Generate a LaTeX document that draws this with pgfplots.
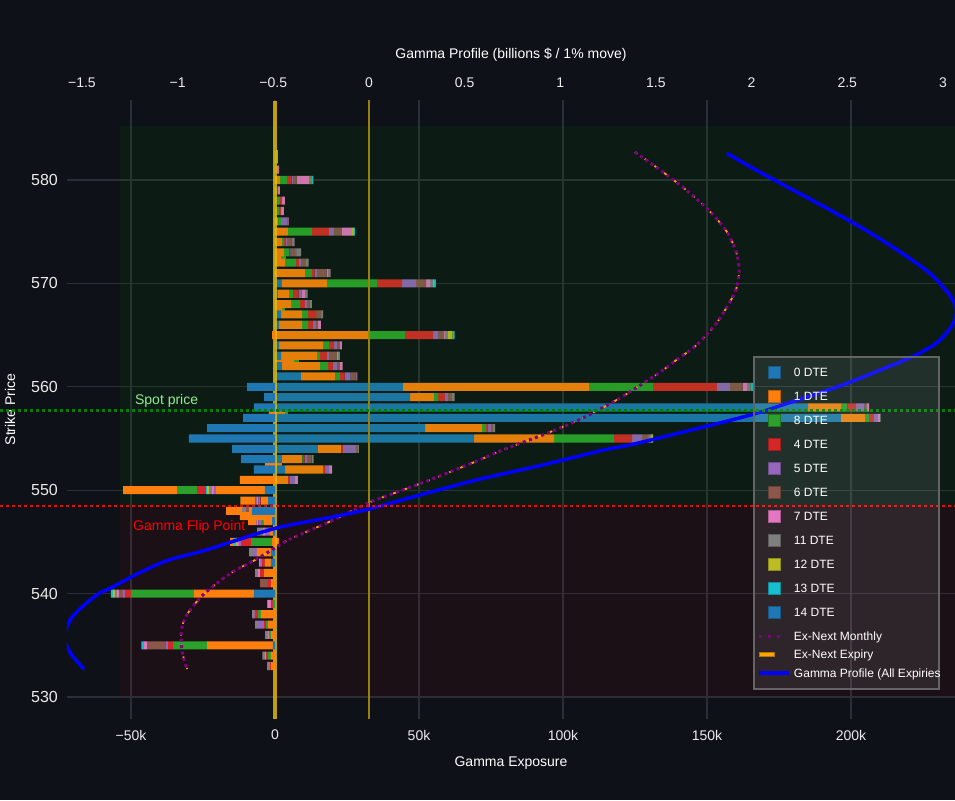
\documentclass[border=0pt]{standalone}
\usepackage{pgfplots}
\pgfplotsset{compat=1.18}
\usepackage{pgfplotstable}
\usepackage{fontspec}
\setmainfont{Liberation Sans}

\definecolor{bgc}{RGB}{14,17,24}
\definecolor{gridc}{RGB}{42,46,54}
\definecolor{tickc}{RGB}{235,235,235}
\definecolor{cA}{RGB}{31,119,180}
\definecolor{cB}{RGB}{255,127,14}
\definecolor{cC}{RGB}{44,160,44}
\definecolor{cD}{RGB}{214,39,40}
\definecolor{cE}{RGB}{148,103,189}
\definecolor{cF}{RGB}{140,86,75}
\definecolor{cG}{RGB}{227,119,194}
\definecolor{cH}{RGB}{127,127,127}
\definecolor{cI}{RGB}{188,189,34}
\definecolor{cJ}{RGB}{23,190,207}
\definecolor{gprof}{RGB}{0,0,255}
\definecolor{exmon}{RGB}{128,0,128}
\definecolor{exexp}{RGB}{255,165,0}
\definecolor{goldA}{RGB}{230,190,10}
\definecolor{goldB}{RGB}{150,128,15}
\definecolor{spotg}{RGB}{0,128,0}
\definecolor{legc}{RGB}{100,100,100}
\definecolor{ltgreen}{RGB}{144,238,144}

\pgfplotstableread{
y b o g r p br pk gy ol cy nb no ng nr np nbr npk ngy nol ncy nrr ngg noo
582.5 0 0 0.7 0 0 0 0 0 0.3 0 0 0 0 0 0 0 0 0 0 0 0 0 0
582 0 0 0.7 0 0 0 0 0 0.3 0 0 0 0 0 0 0 0 0 0 0 0 0 0
581 0 0 0 0 0 0.7 0.7 0 0 0 0 0 0 0 0 0 0 0 0 0 0 0 0
580 0 1.7 2.4 1.7 0.7 1.0 4.5 0.3 0.3 0.7 0 0 0 0 0 0 0 0 0 0 0 0 0
579 0 0 0.7 0.3 0 0 0.7 0 0 0 0 0 0 0 0 0 0 0 0 0 0 0 0
578 0 0 1.7 0.7 0 0 1.0 0 0 0 0 0 0 0 0 0 0 0 0 0 0 0 0
577 0 0 1.4 0.7 0 0 1.0 0 0 0 0 0 0 0 0 0 0 0 0 0 0 0 0
576 0 1.0 1.0 0 2.4 0 0.3 0 0 0 0 0 0 0 0 0 0 0 0 0 0 0 0
575 0 4.5 8.3 5.9 1.7 2.8 3.5 0 0.7 0.3 0 0 0 0 0 0 0 0 0 0 0 0 0
574 0 2.4 0.7 0.7 0.3 1.7 0.3 0.7 0 0 0 0 0 0 0 0 0 0 0 0 0 0 0
573 0 3.1 1.7 0.3 0.3 1.7 0.3 1.7 0 0 0 0 0 0 0 0 0 0 0 0 0 0 0
572.5 0 2.1 1.7 0 0 0 0 0 0 0 0 0 0 0 0 0 0 0 0 0 0 0 0
572 0 3.5 3.8 1.0 0.7 1.7 0 1.0 0 0 0 0 0 0 0 0 0 0 0 0 0 0 0
571 0 10.4 2.4 1.0 1.0 3.1 0.7 0.7 0 0 0 0 0 0 0 0 0 0 0 0 0 0 0
570 2.4 15.6 17.4 8.7 4.9 3.5 1.4 1.0 0.3 0.7 0 0 0 0 0 0 0 0 0 0 0 0 0
569 1.0 3.8 1.7 1.7 1.0 0 1.4 0.7 0 0 0 0 0 0 0 0 0 0 0 0 0 0 0
568 0 5.6 3.1 1.7 0.7 1.0 0 0.7 0 0 0 0 0 0 0 0 0 0 0 0 0 0 0
567.5 0 2.4 1.0 0 0 0 0 0 0 0 0 0 0 0 0 0 0 0 0 0 0 0 0
567 2.1 7.3 2.1 2.8 0 1.7 0 0.7 0 0 0 0 0 0 0 0 0 0 0 0 0 0 0
566 1.4 8.0 2.1 1.7 1.0 0.7 1.0 0 0 0 0 0 0 0 0 0 0 0 0 0 0 0 0
565 0 33.0 12.2 9.7 1.7 2.1 0.3 1.0 1.7 0.7 0 -1.0 0 0 0 0 0 0 0 0 0 0 0
564 1.4 15.3 2.1 1.7 1.0 1.0 0.7 0 0 0 0 0 0 0 0 0 0 0 0 0 0 0 0
563 2.1 12.5 1.0 2.4 0.7 2.8 0.3 0.7 0 0 0 0 0 0 0 0 0 0 0 0 0 0 0
562.5 0 6.6 1.7 0 0 0 0 0 0 0 0 0 0 0 0 0 0 0 0 0 0 0 0
562 2.4 13.2 2.8 1.7 1.4 1.0 1.0 0 0 0 0 0 0 0 0 0 0 0 0 0 0 0 0
561 9.0 11.8 1.7 1.7 2.1 1.7 0.3 0.3 0 0 0 0 0 0 0 0 0 0 0 0 0 0 0
560 44.4 64.6 22.2 22.2 4.5 4.5 1.7 1.0 0 1.4 -9.7 0 0 0 0 0 0 0 0 0 0 0 0
559 46.9 8.3 1.4 2.4 1.0 1.4 0 1.0 0 0 -3.8 0 0 0 0 0 0 0 0 0 0 0 0
558 185.1 11.5 2.1 3.1 2.8 1.0 0.7 0 0 0 -7.3 0 0 0 0 0 0 0 0 0 0 0 0
557.5 0 3.5 1.0 0 0 0 0 0 0 0 0 -2.1 0 0 0 0 0 0 0 0 0 0 0
557 196.5 8.3 1.7 1.4 1.4 0 0.7 0.3 0 0 -11.1 0 0 0 0 0 0 0 0 0 0 0 0
556 52.1 19.8 1.4 0.7 1.0 0.7 0 0.7 0 0 -23.6 0 0 0 0 0 0 0 0 0 0 0 0
555 69.1 27.8 20.8 6.3 3.5 2.1 0.3 0.7 0.7 0 -29.9 0 0 0 0 0 0 0 0 0 0 0 0
554 14.9 8.0 0 0.7 4.5 0.7 0 0.3 0 0 -14.9 0 0 0 0 0 0 0 0 0 0 0 0
553 2.4 6.9 0.3 0.7 1.0 1.4 0 0.7 0 0 -11.8 0 0 0 0 0 0 0 0 0 0 0 0
552.5 0 2.4 0 0 0 0 0 0 0 0 0 -3.5 0 0 0 0 0 0 0 0 0 0 0
552 3.5 13.2 0 0.7 1.4 0 1.0 0 0 0 -7.3 0 0 0 0 0 0 0 0 0 0 0 0
551 0 4.5 0 0.7 1.7 0 1.0 0 0 0 0 -12.2 0 0 0 0 0 0 0 0 0 0 0
550 0 0 0 0 0 0 0 0 0 0 -3.5 -17.0 0 0 -0.7 0 -0.7 -1.0 -0.7 -0.3 -3.1 -6.9 -18.8
549 0 0 0 0 0 0 0 0 0 0 -2.4 -2.4 0 -0.3 -0.7 0 -0.7 -0.3 0 0 0 0 -5.2
548 0 0 0 0 0 0 0 0 0 0 -8.0 -1.0 0 0 0 -1.0 0 -1.4 0 0 0 0 -5.6
547.5 0 0 0 0 0 0 0 0 0 0 0 -12.2 0 0 0 0 0 0 0 0 0 0 0
547 0 0 0 0 0 0 0 0 0 0 -1.0 -2.8 -1.0 0 -1.0 0 -0.7 0 0 0 0 0 -2.8
546 0 0 0 0 0 0 0 0 0 0 -0.7 -1.0 0 0 -1.7 0 -0.7 -2.1 0 0 0 0 0
545 0 1.4 0 0 0 0 0 0 0 0 0 -1.0 -7.3 -3.5 -0.7 0 -0.7 0 -0.3 -0.7 0 0 -1.4
544 0 0 0 0 0 0 0 0 0 0 -1.4 -4.9 0 0 -1.0 0 0 -1.7 0 0 0 0 0
543 0 0 0 0 0 0 0 0 0 0 -1.4 -2.1 0 -1.0 -0.7 0 -0.3 0 0 0 0 0 0
542 0 0 0 0 0 0 0 0 0 0 0 -3.8 0 -1.4 0 0 -0.7 -1.0 0 0 0 0 0
541 0 0 0 0 0 0 0 0 0 0 0 -1.4 0 -1.0 0 -2.8 0 0 0 0 0 0 0
540 0 0 0 0 0 0 0 0 0 0 -7.3 -20.8 -21.9 -2.1 -0.7 -1.4 -0.7 -0.7 -0.7 -0.7 0 0 0
539 0 0 0 0 0 0 0 0 0 0 0 0 -0.7 -0.7 0 0 -1.0 -0.3 0 0 0 0 0
538 0 0 0 0 0 0 0 0 0 0 0 -4.9 -1.0 -1.0 0 0 -0.3 -0.7 0 0 0 0 0
537 0 0 0 0 0 0 0 0 0 0 0 -2.4 -0.7 -0.7 -2.4 0 0 -0.7 0 0 0 0 0
536 0 0 0 0 0 0 0 0 0 0 0 -1.4 -0.7 0 0 0 -0.3 -1.0 0 0 0 0 0
535 0 0 0 0 0 0 0 0 0 0 -0.7 -22.9 -11.8 -1.7 -0.7 -6.6 -1.0 0 -0.3 -0.7 0 0 0
534 0 0 0 0 0 0 0 0 0 0 0 -1.4 -1.0 -0.7 0 0 -0.3 -1.0 0 0 0 0 0
533 0 0 0 0 0 0 0 0 0 0 0 -1.4 0 -0.3 0 0 0 -1.0 0 0 0 0 0
}\bars

\pgfplotsset{
  geom/.style={at={(67pt,81pt)}, anchor=south west, scale only axis,
    width=888pt, height=619pt, ymin=527.872, ymax=587.737},
  sq/.style={legend image code/.code={%
    \path[draw=none,fill=none] (0pt,-12pt) rectangle (40pt,12pt);
    \filldraw[fill opacity=1, draw opacity=1, fill=#1, draw=#1!75!black, line width=0.6pt] (14pt,-6pt) rectangle (26pt,6pt);}},
}

\begin{document}
\begin{tikzpicture}[font=\fontsize{14}{17}\selectfont]
\useasboundingbox (0,0) rectangle (955pt,800pt);
\fill[bgc] (0,0) rectangle (955pt,800pt);
\clip (0,0) rectangle (955pt,800pt);

% ---------- main axis (bottom scale), positive bars
\begin{axis}[geom,
  xmin=-72.22, xmax=236.11,
  axis line style={draw=none}, tick style={draw=none},
  xtick={-50,0,50,100,150,200}, xticklabels={−50k,0,50k,100k,150k,200k},
  ytick={530,540,550,560,570,580}, yticklabels={530,540,550,560,570,580},
  xticklabel style={anchor=center, yshift=-16pt, text=tickc, font=\fontsize{14}{17}\selectfont},
  yticklabel style={anchor=east, inner sep=0pt, xshift=-9pt, text=tickc, font=\fontsize{16}{19}\selectfont},
  xmajorgrids, ymajorgrids, major grid style={gridc, line width=1.2pt},
  xlabel={Gamma Exposure}, ylabel={Strike Price},
  xlabel style={at={(rel axis cs:0.5,-0.0711)}, anchor=center, text=white},
  ylabel style={at={(rel axis cs:-0.0642,0.5)}, anchor=center, text=white},
  xbar stacked, bar width=0.78,
]
\fill[spotg, fill opacity=0.1] (axis cs:-53.8,548.47) rectangle (axis cs:240,585.22);
\fill[red, fill opacity=0.05] (axis cs:-53.8,530.0) rectangle (axis cs:240,548.47);
\addplot[fill=cA, draw=none] table[x=b, y=y]{\bars};
\addplot[fill=cB, draw=none] table[x=o, y=y]{\bars};
\addplot[fill=cC, draw=none] table[x=g, y=y]{\bars};
\addplot[fill=cD, draw=none] table[x=r, y=y]{\bars};
\addplot[fill=cE, draw=none] table[x=p, y=y]{\bars};
\addplot[fill=cF, draw=none] table[x=br, y=y]{\bars};
\addplot[fill=cG, draw=none] table[x=pk, y=y]{\bars};
\addplot[fill=cH, draw=none] table[x=gy, y=y]{\bars};
\addplot[fill=cI, draw=none] table[x=ol, y=y]{\bars};
\addplot[fill=cJ, draw=none] table[x=cy, y=y]{\bars};
\end{axis}

% ---------- negative bars (same scale)
\begin{axis}[geom, xmin=-72.22, xmax=236.11, hide axis,
  xbar stacked, bar width=0.78]
\addplot[fill=cA, draw=none] table[x=nb, y=y]{\bars};
\addplot[fill=cB, draw=none] table[x=no, y=y]{\bars};
\addplot[fill=cC, draw=none] table[x=ng, y=y]{\bars};
\addplot[fill=cD, draw=none] table[x=nr, y=y]{\bars};
\addplot[fill=cE, draw=none] table[x=np, y=y]{\bars};
\addplot[fill=cF, draw=none] table[x=nbr, y=y]{\bars};
\addplot[fill=cG, draw=none] table[x=npk, y=y]{\bars};
\addplot[fill=cH, draw=none] table[x=ngy, y=y]{\bars};
\addplot[fill=cI, draw=none] table[x=nol, y=y]{\bars};
\addplot[fill=cJ, draw=none] table[x=ncy, y=y]{\bars};
\addplot[fill=cD, draw=none] table[x=nrr, y=y]{\bars};
\addplot[fill=cC, draw=none] table[x=ngg, y=y]{\bars};
\addplot[fill=cB, draw=none] table[x=noo, y=y]{\bars};
\draw[goldA, line width=3.5pt, opacity=0.8] (axis cs:0,527.872) -- (axis cs:0,587.6);
\end{axis}

% ---------- top scale: gamma profile curves, lines, legend
\begin{axis}[geom,
  xmin=-1.578, xmax=3.063,
  axis x line*=top, axis y line=none,
  axis line style={draw=none}, tick style={draw=none},
  xtick={-1.5,-1,-0.5,0,0.5,1,1.5,2,2.5,3},
  xticklabels={−1.5,−1,−0.5,0,0.5,1,1.5,2,2.5,3},
  xticklabel style={anchor=center, yshift=17pt, text=tickc, font=\fontsize{14}{17}\selectfont},
  xlabel={Gamma Profile (billions \$ / 1\% move)},
  xlabel style={at={(rel axis cs:0.5,1.0727)}, anchor=center, text=white},
  clip mode=individual,
  legend cell align=left,
  legend style={at={(0.7725,0.5864)}, anchor=north west,
    fill=white, fill opacity=0.09, draw opacity=1, text opacity=1,
    draw=legc, line width=2pt, inner xsep=0pt, inner ysep=3pt,
    row sep=0pt, column sep=0pt,
    font=\fontsize{12}{14}\selectfont, text=white,
    nodes={inner sep=0pt, text height=16.3pt, text depth=7.7pt}},
]
\addlegendimage{sq=cA}
\addlegendentry{0 DTE}
\addlegendimage{sq=cB}
\addlegendentry{1 DTE}
\addlegendimage{sq=cC}
\addlegendentry{8 DTE}
\addlegendimage{sq=cD}
\addlegendentry{4 DTE}
\addlegendimage{sq=cE}
\addlegendentry{5 DTE}
\addlegendimage{sq=cF}
\addlegendentry{6 DTE}
\addlegendimage{sq=cG}
\addlegendentry{7 DTE}
\addlegendimage{sq=cH}
\addlegendentry{11 DTE}
\addlegendimage{sq=cI}
\addlegendentry{12 DTE}
\addlegendimage{sq=cJ}
\addlegendentry{13 DTE}
\addlegendimage{sq=cA}
\addlegendentry{14 DTE}
\addlegendimage{legend image code/.code={\path[draw=none,fill=none] (0pt,-12pt) rectangle (40pt,12pt);\draw[exmon, draw opacity=1, line width=3pt, dash pattern=on 3pt off 6pt] (5pt,0pt) -- (32pt,0pt);}}
\addlegendentry{Ex-Next Monthly}
\addlegendimage{legend image code/.code={\path[draw=none,fill=none] (0pt,-6pt) rectangle (40pt,6pt);\filldraw[fill=exexp, draw=exexp!70!black, fill opacity=1, draw opacity=1, line width=0.6pt] (5pt,-2pt) rectangle (20pt,2pt);}}
\addlegendentry[text height=10.3pt, text depth=1.7pt]{Ex-Next Expiry}
\addlegendimage{legend image code/.code={\path[draw=none,fill=none] (0pt,-13pt) rectangle (40pt,13pt);\draw[gprof, draw opacity=1, line width=4pt] (5pt,0pt) -- (35pt,0pt);}}
\addlegendentry[text height=17.3pt, text depth=8.7pt]{\makebox[145pt][l]{Gamma Profile (All Expiries}}

\draw[goldB, line width=2pt] (axis cs:0,527.872) -- (axis cs:0,587.737);

\addplot[forget plot, exexp, line width=1.8pt, dash pattern=on 3pt off 9pt, smooth] coordinates {
(1.39,582.7) (1.52,581) (1.66,579) (1.78,577) (1.87,575) (1.92,573) (1.935,571.3) (1.92,569.5) (1.88,568) (1.81,566) (1.71,564) (1.6,562.5) (1.52,561.4) (1.32,559) (1.12,557) (0.93,555.5) (0.70,553.9) (0.575,552.9) (0.32,551) (0.1,549.5) (0,548.8) (-0.2,547) (-0.42,545.2) (-0.51,544.2) (-0.59,543.3) (-0.72,542) (-0.86,540) (-0.95,538) (-0.98,536.5) (-0.98,535) (-0.965,533.5) (-0.95,532.7)};
\addplot[forget plot, exmon, line width=3pt, dash pattern=on 3pt off 3.5pt, smooth] coordinates {
(1.39,582.7) (1.52,581) (1.66,579) (1.78,577) (1.87,575) (1.92,573) (1.935,571.3) (1.92,569.5) (1.88,568) (1.81,566) (1.71,564) (1.6,562.5) (1.52,561.4) (1.32,559) (1.12,557) (0.93,555.5) (0.70,553.9) (0.575,552.9) (0.32,551) (0.1,549.5) (0,548.8) (-0.2,547) (-0.42,545.2) (-0.51,544.2) (-0.59,543.3) (-0.72,542) (-0.86,540) (-0.95,538) (-0.98,536.5) (-0.98,535) (-0.965,533.5) (-0.95,532.7)};
\addplot[forget plot, gprof, line width=3.5pt, smooth] coordinates {
(1.87,582.6) (2.02,581) (2.22,579) (2.42,577) (2.61,575) (2.78,573) (2.93,571) (3.03,569) (3.07,567.5) (3.05,566) (2.97,564.3) (2.85,563) (2.67,561.6) (2.45,560) (2.22,558.6) (2.0,557.3) (1.68,555.8) (1.37,554.4) (1.23,553.9) (0.9,552.4) (0.575,551.05) (0.28,549.6) (-0.017,548.1) (-0.25,547.2) (-0.493,546.3) (-0.854,544.2) (-1.046,543.25) (-1.2,542) (-1.354,540.5) (-1.412,540) (-1.5,538.7) (-1.56,537.5) (-1.59,536) (-1.58,535) (-1.55,534) (-1.49,532.7)};

\draw[spotg, line width=3pt, dash pattern=on 3pt off 3pt] (axis cs:-1.929,557.66) -- (axis cs:3.1,557.66);
\draw[red, line width=2.5pt, dash pattern=on 3pt off 3pt] (axis cs:-1.929,548.47) -- (axis cs:3.1,548.47);
\node[anchor=west, inner sep=0pt, text=ltgreen] at (axis cs:-1.223,558.63) {Spot price};
\node[anchor=west, inner sep=0pt, text=red] at (axis cs:-1.233,546.44) {Gamma Flip Point};
\end{axis}
\end{tikzpicture}
\end{document}
